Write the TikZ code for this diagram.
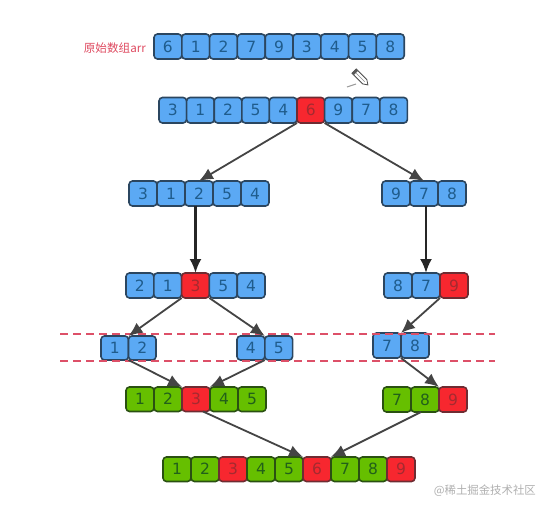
\documentclass[tikz,border=0pt]{standalone}
\usepackage{fontspec}
\setmainfont{DejaVu Sans}
\newfontfamily\cjkfont{Noto Sans CJK SC}
\usetikzlibrary{arrows.meta}
\definecolor{cellblue}{HTML}{5BA9F4}
\definecolor{edgeblue}{HTML}{2B4660}
\definecolor{textblue}{HTML}{1F5C8C}
\definecolor{cellgreen}{HTML}{66BF00}
\definecolor{edgegreen}{HTML}{2A5012}
\definecolor{textgreen}{HTML}{22601A}
\definecolor{cellred}{HTML}{F7272F}
\definecolor{edgered}{HTML}{6E2C32}
\definecolor{textred}{HTML}{A52A30}
\definecolor{arrowgray}{HTML}{444444}
\definecolor{dashred}{HTML}{DD5068}
\definecolor{labelred}{HTML}{DF4A60}
\definecolor{markgray}{HTML}{B0B0B0}
\tikzset{
  cellbase/.style={rectangle,rounded corners=3.5pt,line width=1.6pt,inner sep=0pt,outer sep=0pt,
    anchor=north west,font=\fontsize{15.5}{16}\selectfont,text height=11.4pt,text depth=0pt},
  b/.style={cellbase,fill=cellblue,draw=edgeblue,text=textblue},
  g/.style={cellbase,fill=cellgreen,draw=edgegreen,text=textgreen},
  r/.style={cellbase,fill=cellred,draw=edgered,text=textred},
  conn/.style={draw=arrowgray,line width=1.8pt,-{Latex[length=14pt,width=12pt]}},
  strong/.style={draw=black!85,line width=2.4pt,-{Latex[length=14pt,width=12pt]}},
  cutline/.style={draw=dashred,line width=1.5pt,dash pattern=on 8pt off 5pt},
}
\newcommand{\cellrow}[6]{%
  \foreach \st/\dg [count=\i] in {#6} {
    \pgfmathsetmacro{\cx}{#2+(\i-1)*#4}
    \node[\st,minimum width=#4 pt,minimum height=#5 pt] (#1\i) at (\cx,#3) {\dg};
  }%
}
\begin{document}
\begin{tikzpicture}[x=1pt,y=-1pt]
\useasboundingbox (0,0) rectangle (550,512);
\fill[white] (0,0) rectangle (550,512);

\coordinate (dl1) at (60,334); \coordinate (dr1) at (495,334);
\coordinate (dl2) at (60,361); \coordinate (dr2) at (495,361);

\cellrow{a}{154}{34}{27.8}{25}{b/6,b/1,b/2,b/7,b/9,b/3,b/4,b/5,b/8}
\cellrow{c}{159}{97.5}{27.6}{25.5}{b/3,b/1,b/2,b/5,b/4,r/6,b/9,b/7,b/8}
\cellrow{d}{129}{181}{28}{25}{b/3,b/1,b/2,b/5,b/4}
\cellrow{e}{382}{181}{28}{25}{b/9,b/7,b/8}
\cellrow{f}{126}{273}{27.8}{25}{b/2,b/1,r/3,b/5,b/4}
\cellrow{h}{384}{273}{28}{25}{b/8,b/7,r/9}
\cellrow{j}{101}{336}{27.5}{24}{b/1,b/2}
\cellrow{k}{237}{336}{27.8}{24}{b/4,b/5}
\cellrow{l}{373}{333}{28}{25}{b/7,b/8}
\cellrow{m}{126}{387}{28}{24.5}{g/1,g/2,r/3,g/4,g/5}
\cellrow{n}{383}{387}{28}{25}{g/7,g/8,r/9}
\cellrow{p}{163}{457}{28}{24.5}{g/1,g/2,r/3,g/4,g/5,r/6,g/7,g/8,r/9}

\draw[cutline] (dl1) -- (dr1);
\draw[cutline] (dl2) -- (dr2);

\draw[conn] (c6.south west) -- (d3.north);
\draw[conn] (c6.south east) -- (e2.north);
\draw[strong] (f3.north |- d3.south) -- (f3.north);
\draw[strong] (h2.north |- e2.south) -- (h2.north);
\draw[conn] (f3.south west) -- (j2.north west);
\draw[conn] (f3.south east) -- (k2.north west);
\draw[conn] (h3.south west) -- (l2.north west);
\draw[conn] (j2.south west) -- (m3.north west);
\draw[conn] (k2.south west) -- (m3.north east);
\draw[conn] (l2.south west) -- (n3.north west);
\draw[conn] ([xshift=-7pt]m3.south east) -- (p6.north west);
\draw[conn] ([xshift=10pt]n2.south west) -- (p6.north east);

\node[font=\cjkfont\fontsize{11.6}{12}\selectfont,text=labelred,inner sep=0pt,anchor=east] (lbl) at (146,48) {原始数组arr};
\node[font=\cjkfont\fontsize{11.4}{12}\selectfont,text=markgray,inner sep=0pt,anchor=east] (wm) at (536,491) {@稀土掘金技术社区};

% pencil cursor
\begin{scope}[shift={(360.5,77.5)},rotate=-45]
  \fill[white,draw=black!70,line width=0.8pt] (-9,-3) -- (6,-3) -- (10.5,0) -- (6,3) -- (-9,3) -- cycle;
  \fill[black!65] (-9,-3) rectangle (-6.5,3);
  \draw[black!45,line width=0.6pt] (-6,0) -- (6,0);
\end{scope}
\coordinate (s1) at (347,87); \coordinate (s2) at (356,84);
\draw[black!40,line width=1pt] (s1) -- (s2);
\end{tikzpicture}
\end{document}
